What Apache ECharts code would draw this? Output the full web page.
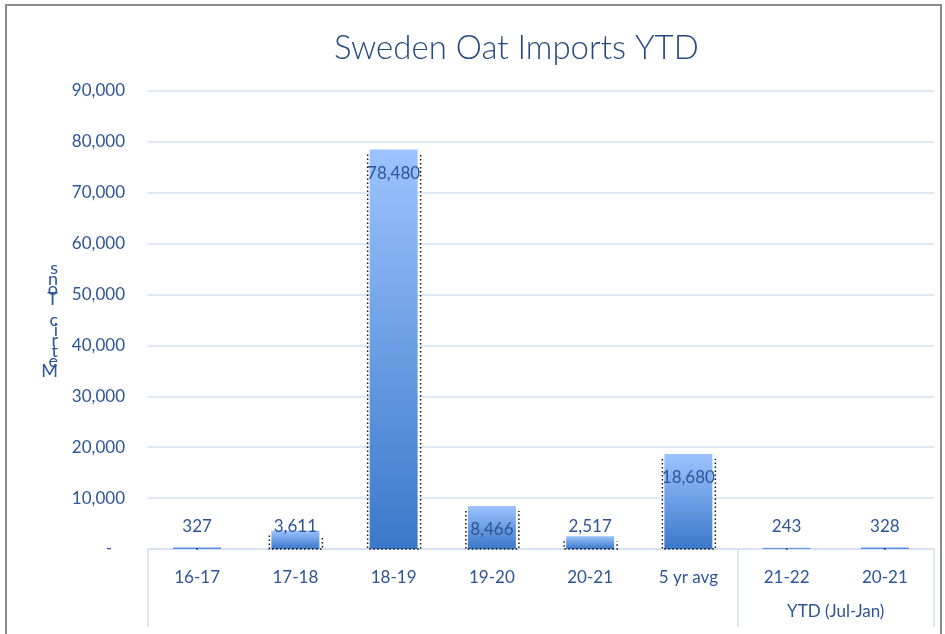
<!DOCTYPE html>
<html>
<head>
<meta charset="utf-8">
<title>Sweden Oat Imports YTD</title>
<script src="https://cdn.jsdelivr.net/npm/echarts@6/dist/echarts.min.js"></script>
<style>
  html, body { margin: 0; padding: 0; background: #fff; }
  #main { width: 945px; height: 634px; }
</style>
</head>
<body>
<div id="main"></div>
<script>
// data
var categories = ['16-17', '17-18', '18-19', '19-20', '20-21', '5 yr avg', '21-22', '20-21'];
var imports = [327, 3611, 78480, 8466, 2517, 18680, 243, 328];
var groupNames = ['', 'YTD (Jul-Jan)'];
var groupSpans = [6, 2];
var yTicks = [0, 10000, 20000, 30000, 40000, 50000, 60000, 70000, 80000, 90000];
var yName = 'Metric Tons';

var textColor = '#2D5597';
var gridColor = '#D5E0F2';
var font = 'Lato';

// group boundaries and centres for the second level of the category axis
var bounds = [0], centres = [];
groupSpans.forEach(function (s) {
    var start = bounds[bounds.length - 1];
    bounds.push(start + s);
    centres.push(start + s / 2);
});

var myChart = echarts.init(document.getElementById('main'));

myChart.setOption({
    animation: false,
    title: {
        text: 'Sweden Oat Imports YTD',
        left: 329,
        top: 27,
        textStyle: { color: '#23497F', fontFamily: font, fontWeight: 300, fontSize: 33 }
    },
    graphic: [{
        type: 'rect',
        shape: { x: 6, y: 5, width: 935, height: 660 },
        style: { fill: null, stroke: '#8C8C8C', lineWidth: 2 },
        silent: true
    }],
    grid: { left: 148, right: 11, top: 91, bottom: 85 },
    xAxis: [{
        type: 'category',
        data: categories,
        axisLine: { lineStyle: { color: gridColor, width: 1.5 } },
        axisTick: { show: false },
        axisLabel: { color: textColor, fontFamily: font, fontSize: 17, margin: 20 }
    }, {
        type: 'value',
        position: 'bottom',
        min: 0,
        max: categories.length,
        axisLine: { show: false },
        splitLine: { show: false },
        axisTick: {
            show: true,
            length: 78,
            customValues: bounds,
            lineStyle: { color: gridColor, width: 1.5 }
        },
        axisLabel: {
            show: true,
            customValues: centres,
            margin: 54,
            color: textColor, fontFamily: font, fontSize: 17,
            formatter: function (v) {
                var i = centres.indexOf(v);
                return i >= 0 ? groupNames[i] : '';
            }
        }
    }],
    yAxis: {
        type: 'value',
        min: yTicks[0],
        max: yTicks[yTicks.length - 1],
        interval: yTicks[1] - yTicks[0],
        name: yName.split('').reverse().join('\n'),
        nameLocation: 'middle',
        nameRotate: 0,
        nameGap: 90,
        nameTextStyle: { color: textColor, fontFamily: font, fontSize: 18, lineHeight: 10.3 },
        axisLine: { show: false },
        axisTick: { show: false },
        splitLine: { lineStyle: { color: gridColor, width: 1.5 } },
        axisLabel: {
            color: textColor, fontFamily: font, fontSize: 17, margin: 23,
            formatter: function (v) {
                return v === 0 ? '-   ' : v.toLocaleString('en-US');
            }
        }
    },
    series: [{
        type: 'bar',
        barWidth: 48,
        data: imports.map(function (v) {
            return {
                value: v,
                label: { position: v < 8000 ? 'insideBottom' : 'insideTop', distance: v < 8000 ? 14 : 15 }
            };
        }),
        itemStyle: {
            color: new echarts.graphic.LinearGradient(0, 0, 0, 1, [
                { offset: 0, color: '#9CC3FF' },
                { offset: 1, color: '#3B78C9' }
            ])
        },
        label: {
            show: true,
            color: textColor,
            fontFamily: font,
            fontSize: 17,
            formatter: function (p) { return p.value.toLocaleString('en-US'); }
        },
        z: 2
    }, {
        // dotted outline drawn slightly offset from each bar
        type: 'custom',
        data: imports.map(function (v, i) { return [i, v]; }),
        renderItem: function (params, api) {
            var base = api.coord([api.value(0), 0]);
            var top = api.coord([api.value(0), api.value(1)]);
            var x = base[0];
            var y0 = top[1] + 5;
            if (y0 >= base[1] - 1) {
                // tiny bar: only a dot at its foot
                return {
                    type: 'circle',
                    shape: { cx: x, cy: base[1], r: 0.9 },
                    style: { fill: '#333' }
                };
            }
            return {
                type: 'polyline',
                shape: { points: [[x - 26, y0], [x - 26, base[1]], [x + 27, base[1]], [x + 27, y0]] },
                style: { fill: null, stroke: '#111', lineWidth: 1.5, lineDash: [1.5, 2.5] }
            };
        },
        z: 3,
        silent: true
    }]
});
</script>
</body>
</html>
